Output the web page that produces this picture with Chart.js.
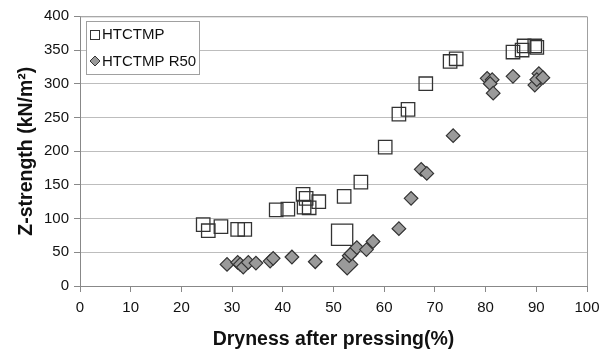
<!DOCTYPE html>
<html>
<head>
<meta charset="utf-8">
<script src="https://cdn.jsdelivr.net/npm/chart.js@4"></script>
<style>
  html, body { margin: 0; padding: 0; background: #fff; }
  #wrap { width: 608px; height: 351px; }
</style>
</head>
<body>
<div id="wrap"><canvas id="scatterChart"></canvas></div>
<script>
// Data: kekeringan (%) dan Z-strength (kN/m2)
const seriesNames = ['HTCTMP', 'HTCTMP R50'];

const htctmpX = [24.3, 25.3, 27.8, 31.1, 32.5, 38.7, 41.0, 44.0, 44.6, 44.2, 45.2, 47.1, 52.1, 55.4, 51.7,
                 60.2, 62.9, 64.7, 68.2, 73.0, 74.2, 85.4, 87.2, 87.6, 89.7, 90.1];
const htctmpY = [91, 82, 88, 84, 84, 113, 114, 136, 130, 117, 116, 125, 133, 154, 76,
                 206, 255, 262, 300, 333, 337, 347, 350, 356, 356, 354];

const r50X = [29.0, 31.1, 31.6, 32.2, 33.2, 34.7, 37.5, 38.1, 41.8, 46.4, 52.7, 53.1, 53.5, 54.6, 56.5,
              57.8, 62.9, 65.3, 67.3, 68.4, 73.6, 80.3, 81.3, 80.9, 81.5, 85.4, 89.7, 90.5, 90.1, 91.3];
const r50Y = [32, 35, 32, 28, 35, 34, 37, 41, 43, 36, 32, 45, 48, 57, 54,
              66, 85, 130, 173, 167, 223, 308, 306, 300, 286, 311, 298, 315, 306, 309];

const xTicks = [0, 10, 20, 30, 40, 50, 60, 70, 80, 90, 100];
const yTicks = [0, 50, 100, 150, 200, 250, 300, 350, 400];

const toPoints = (xs, ys) => xs.map((x, i) => ({ x: x, y: ys[i] }));

// titik besar (ditandai lebih besar di gambar asli)
const bigSquare = 14;
const bigDiamond = 10;

const fontFam = '"Liberation Sans", Arial, Helvetica, sans-serif';

// Legenda dan bingkai digambar manual
const framePlugin = {
    id: 'frame',
    afterDraw(chart) {
        const c = chart.ctx;
        const a = chart.chartArea;
        c.save();
        c.strokeStyle = '#a0a0a0';
        c.lineWidth = 1;
        c.beginPath();
        c.moveTo(a.left, a.top + 0.5);
        c.lineTo(a.right + 0.5, a.top + 0.5);
        c.lineTo(a.right + 0.5, a.bottom);
        c.stroke();

        // kotak legenda
        const lx = 86.5, ly = 21.5, lw = 113, lh = 53;
        c.fillStyle = '#fff';
        c.fillRect(lx, ly, lw, lh);
        c.strokeStyle = '#a0a0a0';
        c.strokeRect(lx, ly, lw, lh);

        c.font = '15px ' + fontFam;
        c.textBaseline = 'middle';
        c.textAlign = 'left';

        // kotak
        c.strokeStyle = '#333';
        c.lineWidth = 1;
        c.fillStyle = '#fff';
        c.fillRect(90.5, 30.5, 9, 9);
        c.strokeRect(90.5, 30.5, 9, 9);
        c.fillStyle = '#111';
        c.fillText(seriesNames[0], 102, 35);

        // belah ketupat
        c.beginPath();
        c.moveTo(95, 56); c.lineTo(100, 61); c.lineTo(95, 66); c.lineTo(90, 61); c.closePath();
        c.fillStyle = '#9a9a9a';
        c.fill();
        c.stroke();
        c.fillStyle = '#111';
        c.fillText(seriesNames[1], 102, 62);
        c.restore();
    }
};

const ctx = document.getElementById('scatterChart').getContext('2d');
const chart = new Chart(ctx, {
    type: 'scatter',
    data: {
        datasets: [
            {
                label: seriesNames[0],
                data: toPoints(htctmpX, htctmpY),
                pointStyle: 'rect',
                pointRadius: c => c.dataIndex === bigSquare ? 15 : 9.5,
                pointBackgroundColor: 'rgba(255,255,255,0)',
                pointBorderColor: '#333',
                pointBorderWidth: 1.3,
                order: 2
            },
            {
                label: seriesNames[1],
                data: toPoints(r50X, r50Y),
                pointStyle: 'rectRot',
                pointRadius: c => c.dataIndex === bigDiamond ? 10.5 : 6.8,
                pointBackgroundColor: '#9a9a9a',
                pointBorderColor: '#333',
                pointBorderWidth: 1.2,
                order: 1
            }
        ]
    },
    options: {
        responsive: true,
        maintainAspectRatio: false,
        animation: false,
        layout: { padding: { top: 13, right: 21, left: 0, bottom: 0 } },
        plugins: {
            legend: { display: false },
            tooltip: { enabled: false }
        },
        scales: {
            x: {
                type: 'linear',
                min: 0,
                max: 100,
                afterBuildTicks: s => { s.ticks = xTicks.map(v => ({ value: v })); },
                afterFit: s => { s.height = 65; },
                grid: {
                    drawOnChartArea: false,
                    drawTicks: true,
                    tickLength: 6,
                    color: '#888'
                },
                border: { color: '#888' },
                ticks: {
                    color: '#111',
                    font: { family: fontFam, size: 15 },
                    padding: 7,
                    maxRotation: 0
                },
                title: {
                    display: true,
                    text: 'Dryness after pressing(%)',
                    color: '#111',
                    font: { family: fontFam, size: 19.5, weight: 'bold' },
                    padding: { top: 0, bottom: 0 }
                }
            },
            y: {
                type: 'linear',
                min: 0,
                max: 400,
                afterBuildTicks: s => { s.ticks = yTicks.map(v => ({ value: v })); },
                afterFit: s => { s.width = 80; },
                grid: {
                    color: '#bdbdbd',
                    tickLength: 6,
                    tickColor: '#888'
                },
                border: { color: '#888' },
                ticks: {
                    color: '#111',
                    font: { family: fontFam, size: 15 },
                    padding: 5
                },
                title: {
                    display: true,
                    text: 'Z-strength (kN/m²)',
                    color: '#111',
                    font: { family: fontFam, size: 19.5, weight: 'bold' },
                    padding: { top: 15, bottom: 0 }
                }
            }
        }
    },
    plugins: [framePlugin]
});
</script>
</body>
</html>
